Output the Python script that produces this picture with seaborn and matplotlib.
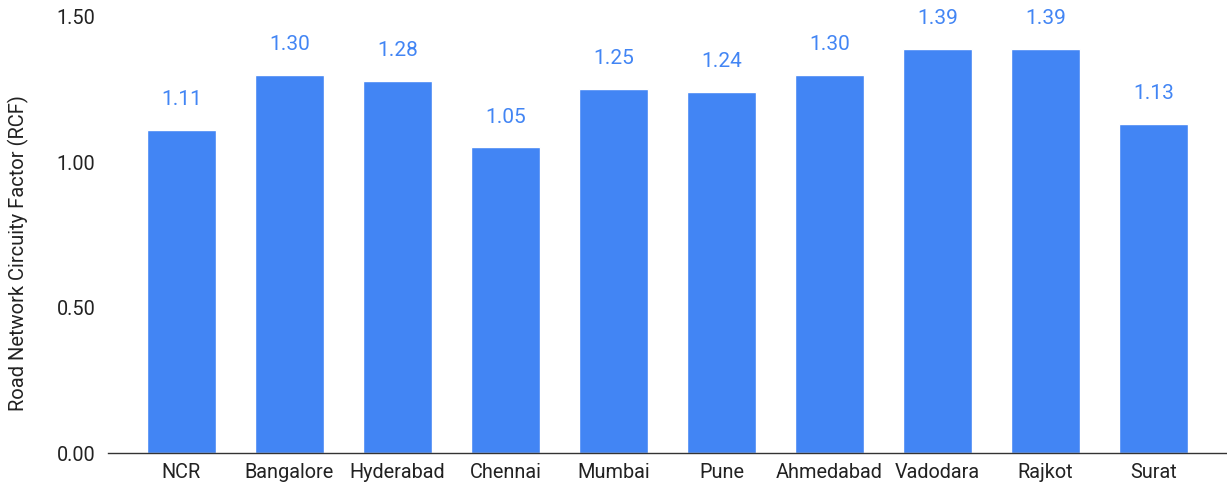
import matplotlib
matplotlib.use("Agg")
import matplotlib.pyplot as plt
import seaborn as sns
import pandas as pd

cities = ["NCR", "Bangalore", "Hyderabad", "Chennai", "Mumbai", "Pune",
          "Ahmedabad", "Vadodara", "Rajkot", "Surat"]
rcf = [1.11, 1.30, 1.28, 1.05, 1.25, 1.24, 1.30, 1.39, 1.39, 1.13]
y_ticks = [0.0, 0.5, 1.0, 1.5]

sns.set_theme(style="white")
plt.rcParams["font.family"] = ["Roboto", "DejaVu Sans"]

bar_color = "#4285F4"
text_color = "#222222"

df = pd.DataFrame({"city": cities, "rcf": rcf})

fig = plt.figure(figsize=(12.27, 4.87), dpi=100)
ax = fig.add_axes([0.088, 0.0698, 0.912, 0.8962])

sns.barplot(data=df, x="city", y="rcf", color=bar_color, saturation=1,
            width=0.64, ax=ax)

for patch, val in zip(ax.patches, rcf):
    ax.annotate(f"{val:.2f}", (patch.get_x() + patch.get_width() / 2, val),
                xytext=(0, 15), textcoords="offset points",
                ha="center", va="bottom", color=bar_color, fontsize=15)

ax.set_xlim(-0.68, 9.68)
ax.set_ylim(0, 1.5)
ax.set_yticks(y_ticks)
ax.set_yticklabels([f"{t:.2f}" for t in y_ticks])
ax.set_xlabel("")
ax.set_ylabel("Road Network Circuity Factor (RCF)", fontsize=14.5,
              color=text_color)
# label sits a little below the vertical centre of the axes
ax.yaxis.set_label_coords(-0.0705, 0.458)

for s in ["top", "right", "left"]:
    ax.spines[s].set_visible(False)
ax.spines["bottom"].set_color("#333333")
ax.spines["bottom"].set_linewidth(1.0)
ax.tick_params(axis="both", length=0, labelsize=14.3, colors=text_color)
ax.tick_params(axis="x", pad=7)
ax.tick_params(axis="y", pad=9)

fig.savefig("out.png", dpi=100)
